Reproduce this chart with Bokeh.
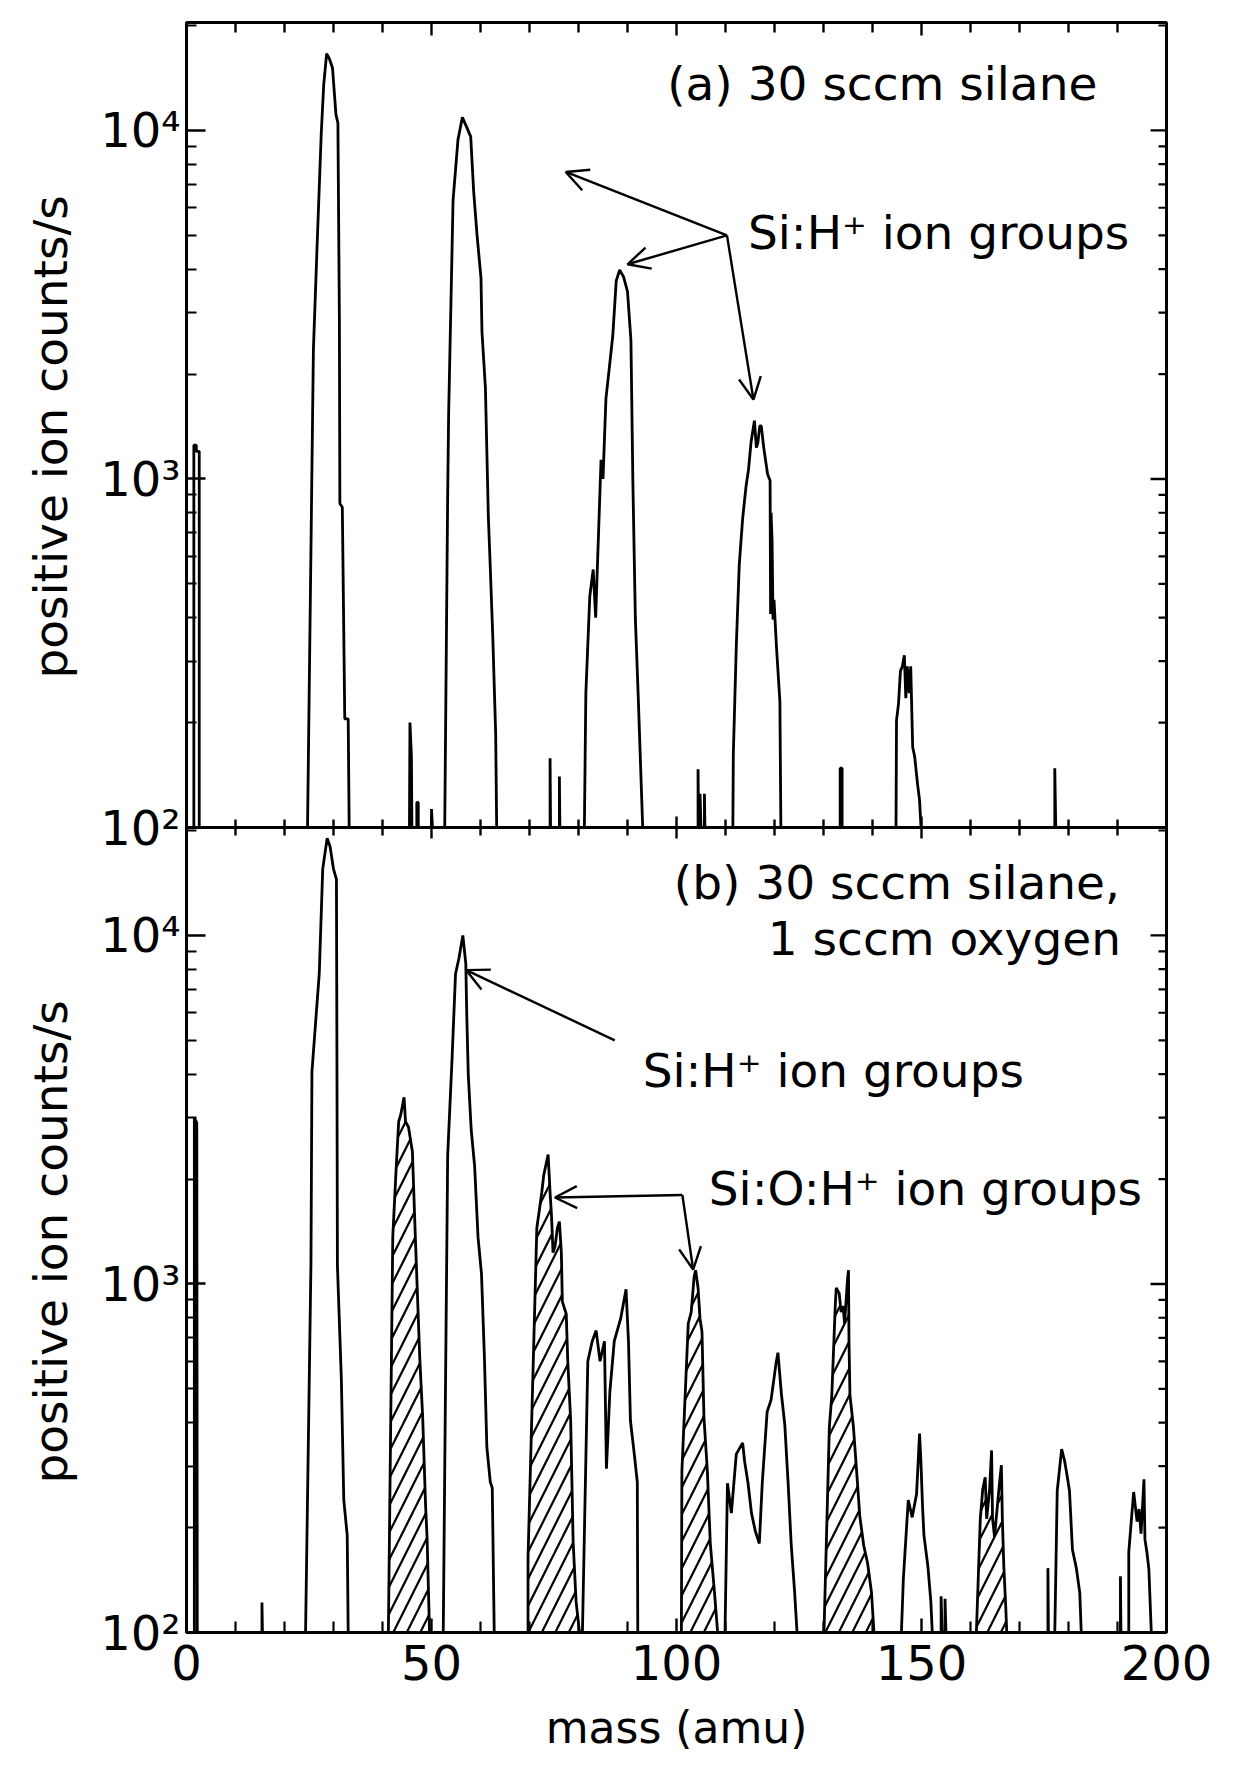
import math
from bokeh.plotting import figure
from bokeh.models import (Range1d, LogScale, FixedTicker, LogAxis, Label, Arrow, OpenHead, Span)
from bokeh.embed import file_html
from bokeh.resources import INLINE

# ---------------- data ----------------
# (a) 30 sccm silane
mass_a = [0,
          1.5, 1.5, 2.0, 2.0, 2.6, 2.6,
          24.7, 25.9, 26.6, 27.5, 28.0, 28.6, 29.2, 29.8, 30.5, 30.9, 31.2, 31.3, 31.8, 32.3, 33.0, 33.2,
          45.5, 45.6, 45.9, 46.0, 47.0, 47.0, 47.3, 47.3, 50.0, 50.0, 50.2,
          52.7, 53.3, 53.5, 54.4, 55.4, 56.3, 57.2, 58.0, 58.6, 59.3, 60.1, 60.3, 61.0, 61.6, 61.9, 62.5, 63.1, 63.3,
          74.2, 74.2, 74.3, 76.1, 76.1, 76.2,
          81.2, 81.5, 82.3, 83.0, 83.5, 84.6, 85.0, 85.6, 86.3, 87.0, 87.7, 88.4, 89.2, 90.0, 90.7, 91.1, 91.6, 92.2, 92.8, 93.1,
          104.4, 104.4, 104.5, 104.8, 104.8, 105.0, 105.7, 105.7, 105.8,
          111.5, 111.6, 112.2, 112.8, 113.5, 114.2, 114.7, 115.2, 115.9, 116.3, 116.6, 117.0, 117.3, 117.8, 118.6,
          119.1, 119.2, 119.3, 119.5, 119.7, 119.9, 120.4, 121.1, 121.3,
          133.4, 133.4, 133.8, 133.8,
          144.8, 144.9, 145.3, 145.7, 146.1, 146.5, 146.8, 147.1, 147.5, 147.8, 148.2, 148.6, 149.2, 149.6, 149.9,
          177.2, 177.2, 177.4,
          200]
counts_a = [100,
            100, 1250, 1250, 1200, 1200, 100,
            100, 2350, 4450, 9800, 13500, 16600, 16000, 15100, 11100, 10500, 2870, 850, 830, 205, 205, 100,
            100, 200, 160, 100, 100, 118, 118, 100, 100, 113, 100,
            100, 900, 1540, 6300, 9400, 10900, 10200, 9600, 6700, 5000, 3770, 2640, 1830, 780, 605, 355, 185, 100,
            100, 158, 100, 100, 140, 100,
            100, 243, 460, 550, 400, 1135, 1000, 1700, 2090, 2580, 3700, 3980, 3800, 3450, 2500, 975, 400, 235, 133, 100,
            100, 147, 100, 100, 125, 100, 100, 125, 100,
            100, 163, 330, 565, 770, 955, 1065, 1270, 1470, 1230, 1270, 1420, 1420, 1230, 1030,
            990, 410, 800, 670, 395, 450, 330, 230, 100,
            100, 148, 148, 100,
            100, 203, 226, 281, 290, 312, 235, 290, 243, 290, 170, 160, 133, 120, 100,
            100, 148, 100,
            100]

# (b) 30 sccm silane, 1 sccm oxygen
mass_b = [0,
          1.6, 1.6, 2.1, 2.2,
          15.4, 15.4, 15.5,
          24.3, 25.4, 25.6, 27.1, 27.8, 28.7, 29.3, 30.0, 30.6, 30.7, 30.8, 31.6, 32.1, 32.8, 33.0,
          41.2, 42.1, 42.7, 43.3, 43.7, 44.4, 44.7, 45.3, 46.1, 46.7, 47.6, 48.2, 48.8, 49.1, 49.6,
          52.4, 52.8, 53.3, 54.2, 54.9, 55.6, 56.4, 57.0, 57.2, 57.5, 58.1, 58.8, 59.5, 60.2, 60.8, 61.3, 62.0, 62.4, 62.8,
          69.7, 69.7, 71.5, 72.0, 72.5, 72.9, 73.8, 74.2, 74.5, 74.8, 75.2, 75.7, 76.1, 76.5, 76.7, 77.5, 77.8, 78.4, 78.9, 79.5, 80.2,
          80.8, 81.9, 82.8, 83.6, 84.4, 85.3, 85.7, 86.4, 87.3, 88.6, 89.7, 90.2, 90.6, 91.3, 92.0, 92.1,
          101.0, 101.1, 102.4, 103.0, 103.6, 103.9, 104.4, 104.8, 105.2, 105.6, 106.3, 106.9, 107.7, 108.4,
          109.9, 110.4, 111.2, 112.2, 113.5, 113.9, 114.6, 115.3, 116.1, 116.9, 117.5, 118.5, 119.3, 120.3, 120.7,
          121.4, 122.1, 122.8, 123.4, 124.1, 124.6,
          130.1, 131.2, 131.7, 132.4, 132.6, 133.2, 133.6, 134.0, 134.3, 134.9, 135.1, 135.2, 135.4, 136.1, 136.8,
          137.4, 138.2, 139.0, 139.8, 140.3,
          145.9, 146.3, 147.3, 148.1, 149.0, 149.6, 149.9, 150.2, 150.5, 151.3, 151.9, 152.2,
          154.0, 154.0, 154.2, 154.8, 154.8, 155.0,
          161.2, 162.0, 162.5, 163.0, 163.3, 163.9, 164.3, 164.5, 164.9, 165.8, 166.3, 166.5, 166.8, 167.2, 167.4,
          175.8, 175.8, 175.9,
          177.2, 177.7, 178.6, 179.2, 179.8, 180.2, 180.5, 180.8, 181.6, 182.3, 182.6,
          190.6, 190.6, 190.7,
          192.3, 192.3, 193.3, 194.0, 194.4, 194.8, 195.4, 195.6, 196.0, 196.4, 196.9,
          200]
counts_b = [100,
            100, 3000, 2900, 100,
            100, 122, 100,
            100, 1150, 4060, 7800, 15500, 19000, 18000, 15500, 14500, 4590, 1130, 535, 240, 190, 100,
            100, 1370, 2030, 2920, 3050, 3430, 2920, 2820, 2400, 1365, 615, 415, 230, 187, 100,
            100, 413, 2330, 4450, 7750, 8600, 10000, 8300, 5900, 4000, 2770, 2180, 1360, 1070, 615, 340, 270, 260, 100,
            100, 164, 1450, 1625, 1830, 2050, 2350, 1830, 1560, 1230, 1280, 1450, 1510, 1230, 890, 820, 605, 405, 183, 123, 100,
            100, 600, 685, 735, 600, 685, 295, 490, 685, 795, 965, 685, 405, 333, 270, 100,
            100, 290, 770, 830, 1050, 1095, 975, 795, 730, 415, 290, 180, 133, 100,
            100, 268, 220, 325, 350, 310, 268, 220, 195, 180, 268, 430, 465, 590, 635,
            485, 395, 265, 180, 131, 100,
            100, 390, 480, 865, 975, 940, 830, 865, 770, 1030, 1095, 685, 480, 390, 285,
            216, 178, 158, 130, 100,
            100, 143, 240, 214, 250, 372, 305, 232, 190, 155, 123, 100,
            100, 127, 100, 100, 125, 100,
            100, 212, 258, 279, 212, 258, 333, 212, 188, 258, 302, 212, 155, 118, 100,
            100, 153, 100,
            100, 255, 336, 311, 277, 255, 210, 173, 153, 130, 100,
            100, 145, 100,
            100, 170, 253, 208, 226, 192, 275, 185, 170, 152, 100,
            100]

# mass windows of the hatched Si:O:H+ groups in panel (b)
hatched_ranges_b = [(41.2, 49.6), (69.7, 80.2), (101.0, 108.4), (130.1, 140.3), (161.2, 167.4)]

x_major = [0, 50, 100, 150, 200]
x_minor = [10, 20, 30, 40, 60, 70, 80, 90, 110, 120, 130, 140, 160, 170, 180, 190]
y_major = [100, 1000, 10000]
y_major_labels = ["10\u00b2", "10\u00b3", "10\u2074"]
y_minor = [200, 300, 400, 500, 600, 700, 800, 900,
           2000, 3000, 4000, 5000, 6000, 7000, 8000, 9000, 20000]
y_title = "positive ion counts/s"

X_MIN, X_MAX = 0, 200
Y_MIN, Y_MAX = 100, 20400
STACK = 204  # Y_MAX / Y_MIN : the top panel sits one full panel-span above the bottom one
Y_TITLE_AT = 1320  # counts level at which each panel's y title is centred

FONT = "DejaVu Sans"

# ---------------- figure ----------------
p = figure(width=1253, height=1760, frame_width=980, frame_height=1610,
           x_range=Range1d(X_MIN, X_MAX), y_range=Range1d(Y_MIN, Y_MAX * STACK),
           y_axis_type="log", output_backend="svg", toolbar_location=None,
           min_border_left=186, min_border_right=87, min_border_top=22, min_border_bottom=100)
p.extra_y_ranges = {"top": Range1d(Y_MIN / STACK, Y_MAX)}
p.extra_y_scales = {"top": LogScale()}
p.grid.visible = False
p.background_fill_color = "white"
p.border_fill_color = "white"
p.outline_line_color = "black"
p.outline_line_width = 3

y_ticks_all = y_major + [v * STACK for v in y_major]
y_minor_all = y_minor + [v * STACK for v in y_minor]
overrides = {}
for v, lab in zip(y_major, y_major_labels):
    overrides[v] = lab
    overrides[v * STACK] = lab


def style_axis(ax, tick_in, minor_in):
    ax.axis_line_color = "black"
    ax.axis_line_width = 3
    ax.major_tick_line_color = "black"
    ax.major_tick_line_width = 2.4
    ax.minor_tick_line_color = "black"
    ax.minor_tick_line_width = 2.2
    ax.major_tick_in = tick_in
    ax.major_tick_out = 0
    ax.minor_tick_in = minor_in
    ax.minor_tick_out = 0
    ax.major_label_text_font = FONT
    ax.major_label_text_font_size = "48px"
    ax.major_label_text_color = "black"


# left axis
yl = p.yaxis[0]
yl.ticker = FixedTicker(ticks=y_ticks_all, minor_ticks=y_minor_all)
yl.major_label_overrides = overrides
style_axis(yl, 19, 10)
yl.major_label_standoff = 6

# y-axis titles, one per panel: an outer left axis whose only two labels are the titles
title_ticks = [Y_TITLE_AT, Y_TITLE_AT * STACK]
yt = LogAxis(ticker=FixedTicker(ticks=title_ticks, minor_ticks=[]),
             major_label_overrides={t: y_title for t in title_ticks},
             major_label_orientation="vertical")
yt.axis_line_color = None
yt.major_tick_line_color = None
yt.minor_tick_line_color = None
yt.major_tick_in = 0
yt.major_tick_out = 0
yt.major_label_standoff = 19
yt.major_label_text_font = FONT
yt.major_label_text_font_size = "47px"
yt.major_label_text_color = "black"
p.add_layout(yt, "left")

# bottom axis
xb = p.xaxis[0]
xb.ticker = FixedTicker(ticks=x_major, minor_ticks=x_minor)
style_axis(xb, 14, 11)
xb.major_label_standoff = 12
xb.axis_label = "mass (amu)"
xb.axis_label_text_font = FONT
xb.axis_label_text_font_size = "44px"
xb.axis_label_text_font_style = "normal"
xb.axis_label_text_color = "black"
xb.axis_label_standoff = 19

# inward ticks on the right edge (both panels) and the top edge; markers are clipped by the frame
p.scatter(x=[X_MAX] * len(y_ticks_all), y=y_ticks_all, marker="dash", size=32,
          line_color="black", line_width=2.4)
p.scatter(x=[X_MAX] * len(y_minor_all), y=y_minor_all, marker="dash", size=16,
          line_color="black", line_width=2.2)
p.scatter(x=x_major, y=[Y_MAX] * len(x_major), marker="dash", angle=math.pi / 2, size=26,
          line_color="black", line_width=2.4, y_range_name="top")
p.scatter(x=x_minor, y=[Y_MAX] * len(x_minor), marker="dash", angle=math.pi / 2, size=20,
          line_color="black", line_width=2.4, y_range_name="top")

# boundary between the two panels with ticks crossing it
p.add_layout(Span(location=Y_MIN, dimension="width", y_range_name="top",
                  line_color="black", line_width=3))
p.scatter(x=x_minor, y=[Y_MIN] * len(x_minor), marker="dash", angle=math.pi / 2,
          size=16, line_color="black", line_width=2.4, y_range_name="top")
p.scatter(x=x_major, y=[Y_MIN] * len(x_major), marker="dash", angle=math.pi / 2,
          size=22, line_color="black", line_width=2.4, y_range_name="top")

# hatched groups (panel b)
for lo, hi in hatched_ranges_b:
    xs = [m for m in mass_b if lo <= m <= hi]
    ys = [max(c, Y_MIN) for m, c in zip(mass_b, counts_b) if lo <= m <= hi]
    p.varea(x=xs, y1=Y_MIN, y2=ys, fill_color=None, fill_alpha=0,
            hatch_pattern="/", hatch_color="black", hatch_weight=2.2, hatch_scale=27)

# spectra
p.line(mass_b, counts_b, line_color="black", line_width=2.8)
p.line(mass_a, counts_a, line_color="black", line_width=2.8, y_range_name="top")


def add_label(text, x, y, rng=None, align="center", size="47px"):
    kw = dict(x=x, y=y, text=text, text_font=FONT, text_font_size=size,
              text_align=align, text_baseline="middle", text_color="black")
    if rng:
        kw["y_range_name"] = rng
    p.add_layout(Label(**kw))


def add_arrow(x0, y0, x1, y1, rng=None):
    kw = dict(end=OpenHead(size=22, line_width=2.4, line_color="black"),
              x_start=x0, y_start=y0, x_end=x1, y_end=y1,
              line_width=2.4, line_color="black")
    if rng:
        kw["y_range_name"] = rng
    p.add_layout(Arrow(**kw))


# panel (a) annotations
add_label("(a) 30 sccm silane", 142.0, 13600, rng="top")
add_label("Si:H\u207a ion groups", 153.5, 5080, rng="top")
add_arrow(110.3, 5000, 77.4, 7600, rng="top")
add_arrow(110.3, 5000, 90.0, 4130, rng="top")
add_arrow(110.3, 5000, 115.7, 1690, rng="top")

# panel (b) annotations
add_label("(b) 30 sccm silane,", 190.5, 14200, align="right")
add_label("1 sccm oxygen", 190.7, 9800, align="right")
add_label("Si:H\u207a ion groups", 132.0, 4100)
add_arrow(87.4, 5000, 57.1, 7950)
add_label("Si:O:H\u207a ion groups", 150.8, 1885)
add_arrow(101.2, 1800, 75.2, 1770)
add_arrow(101.2, 1800, 103.4, 1100)

open("out.html", "w").write(file_html(p, INLINE))
